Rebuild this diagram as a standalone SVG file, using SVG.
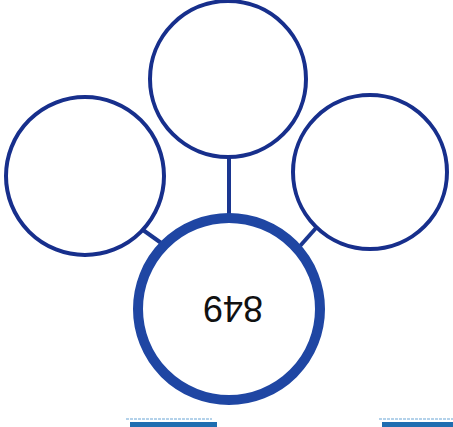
<svg xmlns="http://www.w3.org/2000/svg" width="453" height="427" viewBox="0 0 453 427">
<style>
.small{fill:none;stroke:#172f8c;stroke-width:4}
.big{fill:none;stroke:#1f46a3;stroke-width:10}
.conn{stroke:#1a3690;stroke-width:4;fill:none}
.lbl{font-family:"Liberation Sans",Arial,sans-serif;font-size:36px;fill:#111}
.tab{fill:#1f6db0}
.tabedge{stroke:#9cc4e4;stroke-width:1.5;stroke-dasharray:3 1}
</style>
<rect width="453" height="427" fill="#fff"/>
<g id="connectors">
<line class="conn" x1="229" y1="157" x2="229" y2="215"/>
<line class="conn" x1="143" y1="230" x2="164" y2="245"/>
<line class="conn" x1="316" y1="228" x2="300" y2="246"/>
</g>
<g id="node-top"><circle class="small" cx="228" cy="79" r="78"/></g>
<g id="node-left"><circle class="small" cx="85" cy="176" r="79"/></g>
<g id="node-right"><circle class="small" cx="370" cy="172" r="77"/></g>
<g id="node-center">
<circle class="big" cx="229" cy="309" r="91"/>
<text class="lbl" x="233" y="308" text-anchor="middle" dominant-baseline="central" transform="rotate(180 233 308)">849</text>
</g>
<g id="tabs">
<line class="tabedge" x1="126" y1="419" x2="212" y2="419"/>
<rect class="tab" x="130" y="422" width="87" height="6"/>
<line class="tabedge" x1="379" y1="419" x2="453" y2="419"/>
<rect class="tab" x="382" y="422" width="71" height="6"/>
</g>
</svg>
